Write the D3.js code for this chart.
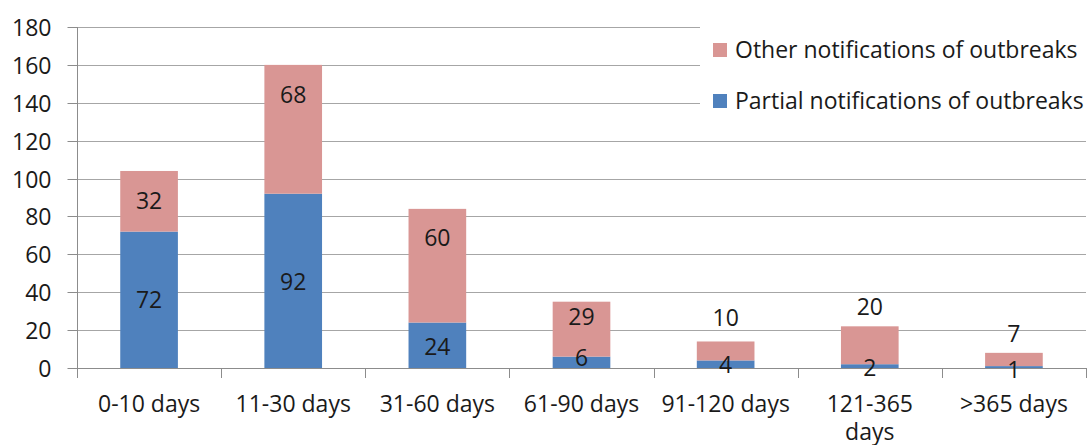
<!DOCTYPE html>
<html>
<head>
<meta charset="utf-8">
<script src="https://cdn.jsdelivr.net/npm/d3@7"></script>
<style>
  body { margin: 0; background: #fff; }
  svg { display: block; }
  text { font-family: "Open Sans", Lato, sans-serif; fill: #1a1a1a; }
</style>
</head>
<body>
<svg id="chart" width="1089" height="445"></svg>
<script>
// Time to notification, by outbreak notification type
const categories = ["0-10 days", "11-30 days", "31-60 days", "61-90 days", "91-120 days", "121-365 days", ">365 days"];
const partial = [72, 92, 24, 6, 4, 2, 1];
const other = [32, 68, 60, 29, 10, 20, 7];
const seriesNames = ["Partial notifications of outbreaks", "Other notifications of outbreaks"];
const yTicks = [0, 20, 40, 60, 80, 100, 120, 140, 160, 180];

const colors = { partial: "#4F81BD", other: "#D99694" };
const FONT = "'Open Sans', Lato, sans-serif";
const FS = "23px";

// vertical label nudges (px) for readability
const otherNudge = [0, -34, -28, -12, -33, -38, -26];
const partialNudge = [0, 1, 2, -4, 1, 2, 3];

const svg = d3.select("#chart");
const plotLeft = 77, plotRight = 1086, plotTop = 27, plotBottom = 368;

const x = d3.scaleBand().domain(categories).range([plotLeft, plotRight]).paddingInner(0.6).paddingOuter(0.3);
const xTickScale = d3.scaleLinear().domain([0, categories.length]).range([plotLeft, plotRight]);
const y = d3.scaleLinear().domain([0, 180]).range([plotBottom, plotTop]);

// gridlines
svg.append("g")
  .selectAll("line")
  .data(yTicks.filter(d => d > 0))
  .join("line")
  .attr("x1", plotLeft).attr("x2", plotRight)
  .attr("y1", d => Math.round(y(d)) + 0.5).attr("y2", d => Math.round(y(d)) + 0.5)
  .attr("stroke", "#a6a6a6").attr("stroke-width", 1);

// y axis
const yAxis = d3.axisLeft(y).tickValues(yTicks).tickSize(10).tickPadding(16);
const gy = svg.append("g").attr("transform", `translate(${plotLeft + 0.5},0)`).call(yAxis);
gy.select(".domain").attr("stroke", "#8c8c8c").attr("d", `M0,${plotTop}V${plotBottom + 10}`);
gy.selectAll(".tick line").attr("stroke", "#8c8c8c");
gy.selectAll(".tick text").style("font-size", FS).style("fill", "#1a1a1a").style("font-family", FONT).attr("dy", "0.35em");
gy.selectAll(".tick").attr("transform", d => `translate(0,${Math.round(y(d)) + 0.5})`);

// x axis baseline and category ticks
svg.append("line")
  .attr("x1", plotLeft).attr("x2", plotRight)
  .attr("y1", plotBottom + 0.5).attr("y2", plotBottom + 0.5)
  .attr("stroke", "#8c8c8c");
svg.append("g")
  .selectAll("line")
  .data(d3.range(1, categories.length + 1))
  .join("line")
  .attr("x1", i => Math.round(xTickScale(i)) + 0.5).attr("x2", i => Math.round(xTickScale(i)) + 0.5)
  .attr("y1", plotBottom).attr("y2", plotBottom + 10)
  .attr("stroke", "#8c8c8c");

// stacked bars
const stackData = categories.map((c, i) => ({ cat: c, partial: partial[i], other: other[i] }));
const stack = d3.stack().keys(["partial", "other"])(stackData);

svg.append("g")
  .selectAll("g")
  .data(stack)
  .join("g")
  .attr("fill", s => colors[s.key])
  .selectAll("rect")
  .data(s => s)
  .join("rect")
  .attr("x", d => x(d.data.cat))
  .attr("width", x.bandwidth())
  .attr("y", d => y(d[1]))
  .attr("height", d => y(d[0]) - y(d[1]));

// value labels
const labels = svg.append("g").style("font-size", FS).attr("text-anchor", "middle");
stack.forEach(s => {
  const nudge = s.key === "partial" ? partialNudge : otherNudge;
  labels.selectAll(null)
    .data(s)
    .join("text")
    .attr("x", d => x(d.data.cat) + x.bandwidth() / 2)
    .attr("y", (d, i) => (y(d[0]) + y(d[1])) / 2 + nudge[i])
    .attr("dy", "0.35em")
    .text(d => d.data[s.key]);
});

// category labels (wrap when too wide)
const catLabels = svg.append("g").style("font-size", FS).attr("text-anchor", "middle");
categories.forEach((c, i) => {
  const cx = x(c) + x.bandwidth() / 2;
  const t = catLabels.append("text").attr("x", cx).attr("y", 412);
  if (c === "121-365 days") {
    const parts = c.split(" ");
    t.append("tspan").attr("x", cx).text(parts[0]);
    t.append("tspan").attr("x", cx).attr("dy", 28).text(parts[1]);
  } else {
    t.text(c);
  }
});

// legend
const legendItems = [
  { name: seriesNames[1], color: colors.other },
  { name: seriesNames[0], color: colors.partial }
];
const legend = svg.append("g").attr("transform", "translate(700,25)");
legend.append("rect").attr("x", 0).attr("y", 0).attr("width", 389).attr("height", 95).attr("fill", "#fff");
const li = legend.selectAll("g.item").data(legendItems).join("g")
  .attr("class", "item")
  .attr("transform", (d, i) => `translate(13,${25 + i * 51})`);
li.append("rect").attr("x", 0).attr("y", -7).attr("width", 14).attr("height", 14).attr("fill", d => d.color);
li.append("text").attr("x", 22).attr("dy", "0.35em").style("font-size", FS).text(d => d.name);
</script>
</body>
</html>
